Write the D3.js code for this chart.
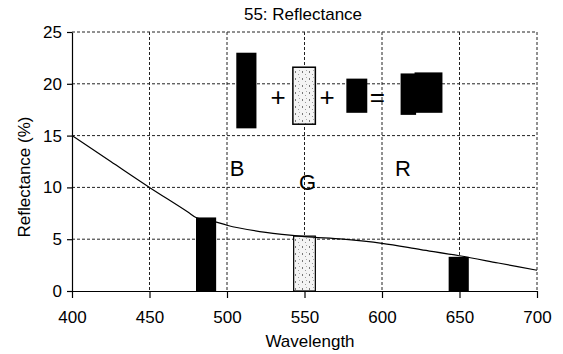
<!DOCTYPE html>
<html>
<head>
<meta charset="utf-8">
<script src="https://cdn.jsdelivr.net/npm/d3@7"></script>
<style>
  body { margin: 0; background: #fff; }
  svg text { font-family: "Liberation Sans", Arial, sans-serif; fill: #000; }
  .grid line { stroke: #222; stroke-width: 1; stroke-dasharray: 3,2; }
  .axis path, .axis line { stroke: #000; stroke-width: 1.2; }
</style>
</head>
<body>
<div id="chart"></div>
<script>
// reflectance curve
const wavelengths = [400, 425, 450, 475, 480, 492, 500, 525, 550, 575, 600, 625, 650, 675, 700];
const reflectance = [15.0, 12.5, 10.0, 7.6, 7.1, 6.7, 6.35, 5.65, 5.25, 5.0, 4.6, 4.0, 3.4, 2.7, 2.0];

// sampled bands (B, G, R) drawn on the curve
const bandNames = ["B", "G", "R"];
const bandFrom = [480, 543, 643];
const bandTo = [493, 557, 656];
const bandHeight = [7.1, 5.3, 3.3];

// band letters (wavelength, reflectance where the letter sits)
const letterX = [506.5, 552, 613.5];
const letterY = [11.1, 9.75, 11.1];

// the little "B + G + R = sum" sketch at the top, in data units
const sketchNames = ["B", "G", "R", "sum", "sum"];
const sketchX0 = [506, 542.5, 577, 612, 621];
const sketchX1 = [519, 557, 590.5, 622, 639];
const sketchY0 = [15.7, 16.1, 17.2, 17.0, 17.2];
const sketchY1 = [23.0, 21.6, 20.5, 21.0, 21.1];
const sketchSigns = ["+", "+", "="];
const signX = [533, 564.5, 597];
const signY = [17.9, 17.9, 17.9];

const xTicks = [400, 450, 500, 550, 600, 650, 700];
const yTicks = [0, 5, 10, 15, 20, 25];

const width = 563, height = 354;
const x = d3.scaleLinear().domain([400, 700]).range([72, 537]);
const y = d3.scaleLinear().domain([0, 25]).range([291, 32]);

const svg = d3.select("#chart")
  .append("svg")
  .attr("width", width)
  .attr("height", height);

// stipple for the green band
const pat = svg.append("defs").append("pattern")
  .attr("id", "stipple")
  .attr("width", 7).attr("height", 7)
  .attr("patternUnits", "userSpaceOnUse");
pat.append("rect").attr("width", 7).attr("height", 7).attr("fill", "#f4f4f4");
pat.append("rect").attr("x", 1).attr("y", 1).attr("width", 1).attr("height", 2).attr("fill", "#777");
pat.append("rect").attr("x", 4).attr("y", 4).attr("width", 1).attr("height", 1).attr("fill", "#999");
pat.append("rect").attr("x", 5).attr("y", 0).attr("width", 1).attr("height", 1).attr("fill", "#aaa");

// dashed grid
const grid = svg.append("g").attr("class", "grid");
grid.selectAll(".vg")
  .data(xTicks.filter(d => d > 400))
  .join("line")
  .attr("class", "vg")
  .attr("x1", d => x(d)).attr("x2", d => x(d))
  .attr("y1", y(25)).attr("y2", y(0));
grid.selectAll(".hg")
  .data(yTicks.filter(d => d > 0))
  .join("line")
  .attr("class", "hg")
  .attr("x1", x(400)).attr("x2", x(700))
  .attr("y1", d => y(d)).attr("y2", d => y(d));

// bands
const bands = bandNames.map((name, i) => ({ name, x0: bandFrom[i], x1: bandTo[i], h: bandHeight[i] }));
svg.append("g").selectAll("rect")
  .data(bands)
  .join("rect")
  .attr("x", d => x(d.x0))
  .attr("width", d => x(d.x1) - x(d.x0))
  .attr("y", d => y(d.h))
  .attr("height", d => y(0) - y(d.h))
  .attr("fill", d => d.name === "G" ? "url(#stipple)" : "#000")
  .attr("stroke", "#000")
  .attr("stroke-width", d => d.name === "G" ? 1.2 : 0);

// reflectance curve
const curve = wavelengths.map((w, i) => [w, reflectance[i]]);
svg.append("path")
  .datum(curve)
  .attr("fill", "none")
  .attr("stroke", "#000")
  .attr("stroke-width", 1.2)
  .attr("d", d3.line().x(d => x(d[0])).y(d => y(d[1])).curve(d3.curveMonotoneX));

// axes
svg.append("g")
  .attr("class", "axis")
  .attr("transform", `translate(0,${y(0)})`)
  .call(d3.axisBottom(x).tickValues(xTicks).tickSize(7).tickSizeOuter(0).tickPadding(13))
  .selectAll("text").style("font-size", "17px");

svg.append("g")
  .attr("class", "axis")
  .attr("transform", `translate(${x(400)},0)`)
  .call(d3.axisLeft(y).tickValues(yTicks).tickSize(5).tickSizeOuter(0).tickPadding(5))
  .selectAll("text").style("font-size", "17px");

// band letters
svg.append("g").selectAll("text")
  .data(bandNames)
  .join("text")
  .attr("x", (d, i) => x(letterX[i]))
  .attr("y", (d, i) => y(letterY[i]))
  .attr("text-anchor", "middle")
  .style("font-size", "22px")
  .text(d => d);

// sketch: B + G + R = sum
svg.append("g").selectAll("rect")
  .data(sketchNames.map((n, i) => ({ n, x0: sketchX0[i], x1: sketchX1[i], y0: sketchY0[i], y1: sketchY1[i] })))
  .join("rect")
  .attr("x", d => x(d.x0))
  .attr("width", d => x(d.x1) - x(d.x0))
  .attr("y", d => y(d.y1))
  .attr("height", d => y(d.y0) - y(d.y1))
  .attr("fill", d => d.n === "G" ? "url(#stipple)" : "#000")
  .attr("stroke", "#000")
  .attr("stroke-width", d => d.n === "G" ? 1.5 : 0);

svg.append("g").selectAll("text")
  .data(sketchSigns)
  .join("text")
  .attr("x", (d, i) => x(signX[i]))
  .attr("y", (d, i) => y(signY[i]))
  .attr("text-anchor", "middle")
  .style("font-size", "26px")
  .text(d => d);

// titles
svg.append("text")
  .attr("x", 303).attr("y", 20)
  .attr("text-anchor", "middle")
  .style("font-size", "17px")
  .text("55: Reflectance");

svg.append("text")
  .attr("x", 310).attr("y", 347)
  .attr("text-anchor", "middle")
  .style("font-size", "17px")
  .text("Wavelength");

svg.append("text")
  .attr("transform", "translate(30,177) rotate(-90)")
  .attr("text-anchor", "middle")
  .style("font-size", "17px")
  .text("Reflectance (%)");
</script>
</body>
</html>
